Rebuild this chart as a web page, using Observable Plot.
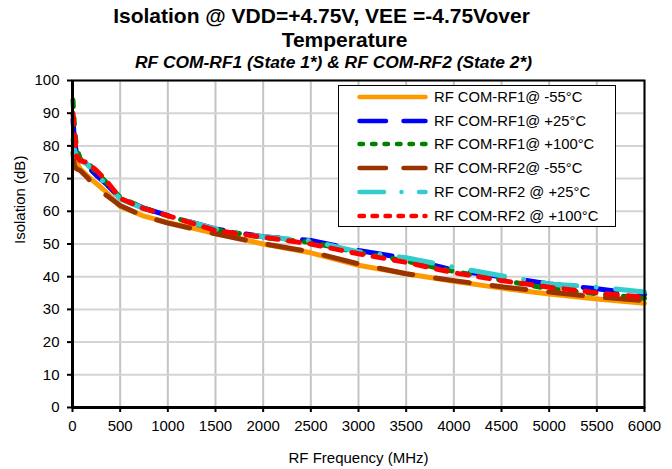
<!DOCTYPE html>
<html><head><meta charset="utf-8">
<script src="https://cdn.jsdelivr.net/npm/d3@7"></script>
<script src="https://cdn.jsdelivr.net/npm/@observablehq/plot@0.6"></script>
<style>
body{margin:0;background:#fff;font-family:"Liberation Sans",Arial,sans-serif;}
#wrap{position:relative;width:672px;height:469px;overflow:hidden;}
#legend{position:absolute;left:338px;top:85px;width:278px;height:142px;border:1.5px solid #000;background:#fff;box-sizing:border-box;}
.row{position:absolute;left:0;height:20px;display:flex;align-items:center;font-size:14.8px;white-space:nowrap;color:#000;}
.row svg{margin-left:18px;margin-right:6px;}
</style></head><body><div id="wrap"></div>
<script>
// ---- data ----
const freq = [5, 20, 40, 80, 150, 250, 350, 500, 750, 1000, 1500, 2000, 2500, 3000, 3500, 4000, 4500, 5000, 5500, 6000];
const rf1_m55  = [80, 77, 75, 73, 71, 68.5, 66, 61.5, 58.5, 56.6, 53.2, 50, 47.3, 43.5, 40.9, 38.6, 36.5, 34.7, 33.2, 31.9];
const rf1_p25  = [88, 82, 78, 75.5, 74, 71, 68.5, 64, 61, 58.7, 54.6, 52.2, 51.1, 48, 45.6, 42, 40, 37.8, 36.3, 34.6];
const rf1_p100 = [94, 86, 80, 76, 75, 72, 69, 64.2, 61, 58.6, 54.4, 52, 50.5, 47.4, 44.8, 41.6, 39, 36.3, 34.8, 33.4];
const rf2_m55  = [78, 74, 73, 72.5, 70.5, 67, 65, 61.8, 58.5, 56.4, 53.1, 50.1, 47.6, 43.9, 40.9, 38.8, 36.9, 35.3, 33.8, 32.7];
const rf2_p25  = [82, 79, 77, 75.5, 74.5, 71, 68.5, 63.8, 60.8, 58.6, 54.6, 52.2, 51, 47.6, 45.8, 42.9, 40.3, 37.8, 36.8, 35.3];
const rf2_p100 = [90, 84, 77, 75.5, 75, 72.5, 69.5, 64, 60.8, 58.7, 54.1, 52.1, 50, 47, 44.4, 41.2, 38.8, 36.8, 35.1, 33.7];
const seriesNames = ["RF COM-RF1@ -55°C", "RF COM-RF1@ +25°C", "RF COM-RF1@ +100°C", "RF COM-RF2@ -55°C", "RF COM-RF2 @ +25°C", "RF COM-RF2 @ +100°C"];
const seriesValues = [rf1_m55, rf1_p25, rf1_p100, rf2_m55, rf2_p25, rf2_p100];
const xTicks = [0, 500, 1000, 1500, 2000, 2500, 3000, 3500, 4000, 4500, 5000, 5500, 6000];
const yTicks = [0, 10, 20, 30, 40, 50, 60, 70, 80, 90, 100];
const titleLine1 = "Isolation @ VDD=+4.75V, VEE =-4.75Vover";
const titleLine2 = "Temperature";
const subtitle = "RF COM-RF1 (State 1*) & RF COM-RF2 (State 2*)";
const xLabel = "RF Frequency (MHz)";
const yLabel = "Isolation (dB)";

// ---- styles ----
const colors = ["#FF9900", "#0000FF", "#008000", "#993300", "#33CCCC", "#FF0000"];
const plotDash = [null, "34,23", "6.5,11.5", "34,23", "34,19.5,0.01,19.5", "11,10.5"];
const legendDash = [null, "26.5,17.5", "3.5,9", "26.5,17.5", "24.5,17.5,0.01,17.5", "4.5,8.5"];

const font = "Liberation Sans, Arial, sans-serif";
const lineMarks = seriesValues.map((vals, i) => {
  const rows = freq.map((f, j) => ({f, v: vals[j]}));
  return Plot.line(rows, {x: "f", y: "v", stroke: colors[i], strokeWidth: 5,
    strokeDasharray: plotDash[i] || undefined, strokeLinecap: "round", strokeLinejoin: "round"});
});

const chart = Plot.plot({
  width: 672, height: 469,
  marginLeft: 72, marginRight: 28, marginTop: 80, marginBottom: 62,
  style: {fontFamily: font, fontSize: "15px", color: "#000", background: "#fff", overflow: "visible"},
  x: {domain: [0, 6000]},
  y: {domain: [0, 100]},
  marks: [
    Plot.gridX(xTicks, {stroke: "#c4c4c4", strokeOpacity: 1, strokeWidth: 2}),
    Plot.gridY(yTicks, {stroke: "#d4d4d4", strokeOpacity: 1, strokeWidth: 2}),
    ...lineMarks,
    Plot.frame({stroke: "#000", strokeWidth: 2}),
    Plot.ruleX([0], {stroke: "#000", strokeWidth: 3}),
    Plot.ruleY([0], {stroke: "#000", strokeWidth: 3}),
    Plot.axisX(xTicks, {tickSize: 5, tickPadding: 8, strokeWidth: 2, fontSize: 15, label: null, tickFormat: d => String(d)}),
    Plot.axisY(yTicks, {tickSize: 5, tickPadding: 8, strokeWidth: 2, fontSize: 15, label: null, tickFormat: d => String(d)}),
    Plot.text([titleLine1], {frameAnchor: "top", lineAnchor: "middle", dx: -37, dy: -64, fontSize: 21, fontWeight: "bold"}),
    Plot.text([titleLine2], {frameAnchor: "top", lineAnchor: "middle", dx: -14, dy: -40, fontSize: 21, fontWeight: "bold"}),
    Plot.text([subtitle], {frameAnchor: "top", lineAnchor: "middle", dx: -25, dy: -18, fontSize: 17.4, fontWeight: "bold", fontStyle: "italic"}),
    Plot.text([xLabel], {frameAnchor: "bottom", lineAnchor: "middle", dy: 51, fontSize: 15}),
    Plot.text([yLabel], {frameAnchor: "left", lineAnchor: "middle", rotate: -90, dx: -52, fontSize: 15})
  ]
});
const wrap = document.getElementById("wrap");
wrap.appendChild(chart);

// ---- legend ----
const legend = document.createElement("div");
legend.id = "legend";
seriesNames.forEach((name, i) => {
  const row = document.createElement("div");
  row.className = "row";
  row.style.top = (1 + i * 23.7) + "px";
  const svg = d3.create("svg").attr("width", 71).attr("height", 10);
  svg.append("line").attr("x1", 2.5).attr("x2", 68.5).attr("y1", 5).attr("y2", 5)
    .attr("stroke", colors[i]).attr("stroke-width", 4.5).attr("stroke-linecap", "round")
    .attr("stroke-dasharray", legendDash[i]);
  row.appendChild(svg.node());
  const span = document.createElement("span");
  span.textContent = name;
  row.appendChild(span);
  legend.appendChild(row);
});
wrap.appendChild(legend);
</script>
</body></html>
